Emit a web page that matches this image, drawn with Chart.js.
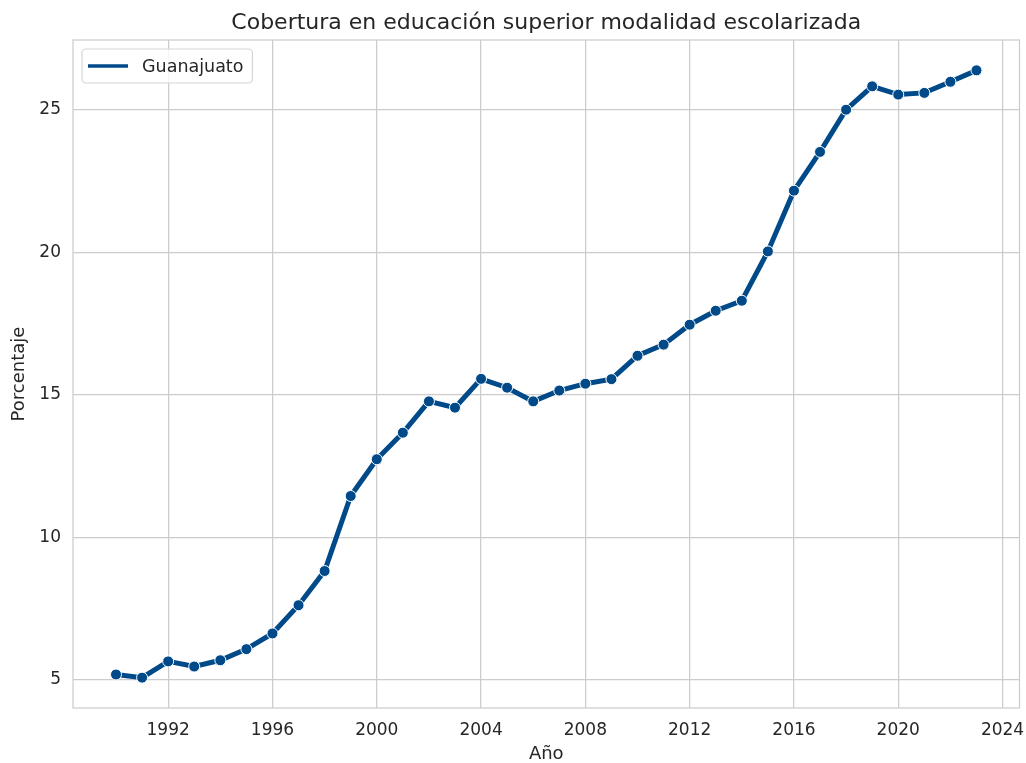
<!DOCTYPE html>
<html>
<head>
<meta charset="utf-8">
<script src="https://cdn.jsdelivr.net/npm/chart.js@4.4.1/dist/chart.umd.min.js"></script>
<style>
  html, body { margin: 0; padding: 0; background: #fff; }
  canvas { display: block; }
</style>
</head>
<body>
<canvas id="chart" width="1026" height="763"></canvas>
<script>
// Data
const years = [1990, 1991, 1992, 1993, 1994, 1995, 1996, 1997, 1998, 1999,
               2000, 2001, 2002, 2003, 2004, 2005, 2006, 2007, 2008, 2009,
               2010, 2011, 2012, 2013, 2014, 2015, 2016, 2017, 2018, 2019,
               2020, 2021, 2022, 2023];
const guanajuato = [5.19, 5.08, 5.65, 5.47, 5.69, 6.08, 6.63, 7.62, 8.82, 11.45,
                    12.74, 13.67, 14.77, 14.55, 15.56, 15.25, 14.77, 15.15, 15.39, 15.55,
                    16.37, 16.76, 17.46, 17.95, 18.30, 20.03, 22.16, 23.52, 25.00, 25.82,
                    25.53, 25.59, 25.98, 26.38];
const xTicks = [1992, 1996, 2000, 2004, 2008, 2012, 2016, 2020, 2024];
const yTicks = [5, 10, 15, 20, 25];

const chartTitle = 'Cobertura en educación superior modalidad escolarizada';
const seriesLabel = 'Guanajuato';
const lineColor = '#004A8A';
const gridColor = '#cccccc';
const textColor = '#262626';
const fontFamily = "'DejaVu Sans', sans-serif";

// matplotlib-style 5% margins around the data
const xPad = (years[years.length - 1] - years[0]) * 0.05;
const yMinV = Math.min(...guanajuato), yMaxV = Math.max(...guanajuato);
const yPad = (yMaxV - yMinV) * 0.05;

// frame around the plot area (all four spines)
const framePlugin = {
  id: 'frame',
  beforeDatasetsDraw(chart) {
    const { ctx, chartArea: a } = chart;
    ctx.save();
    ctx.strokeStyle = gridColor;
    ctx.lineWidth = 1.25;
    ctx.strokeRect(a.left, a.top, a.right - a.left, a.bottom - a.top);
    ctx.restore();
  }
};

// title centred over the axes, like matplotlib does
const axesTitle = {
  id: 'axesTitle',
  afterDraw(chart) {
    const { ctx, chartArea: a } = chart;
    ctx.save();
    ctx.font = '22px ' + fontFamily;
    ctx.fillStyle = textColor;
    ctx.textAlign = 'center';
    ctx.textBaseline = 'alphabetic';
    ctx.fillText(chartTitle, (a.left + a.right) / 2, 28.5);
    ctx.restore();
  }
};

// legend box inside the plot, top left
const boxLegend = {
  id: 'boxLegend',
  afterDraw(chart) {
    const { ctx, chartArea: a } = chart;
    const ds = chart.data.datasets[0];
    ctx.save();
    ctx.font = '17.5px ' + fontFamily;
    const tw = ctx.measureText(ds.label).width;
    const x = a.left + 9, y = a.top + 9;
    const w = 60 + tw + 9, h = 34;
    ctx.beginPath();
    ctx.roundRect(x, y, w, h, 4);
    ctx.fillStyle = 'rgba(255,255,255,0.8)';
    ctx.fill();
    ctx.strokeStyle = '#d6d6d6';
    ctx.lineWidth = 1.2;
    ctx.stroke();
    ctx.beginPath();
    ctx.moveTo(x + 6, y + h / 2);
    ctx.lineTo(x + 46, y + h / 2);
    ctx.strokeStyle = ds.borderColor;
    ctx.lineWidth = 3.5;
    ctx.stroke();
    ctx.fillStyle = textColor;
    ctx.textBaseline = 'middle';
    ctx.fillText(ds.label, x + 60, y + h / 2 + 1);
    ctx.restore();
  }
};

new Chart(document.getElementById('chart'), {
  type: 'line',
  data: {
    datasets: [{
      label: seriesLabel,
      data: years.map((yr, i) => ({ x: yr, y: guanajuato[i] })),
      borderColor: lineColor,
      backgroundColor: lineColor,
      borderWidth: 5,
      pointRadius: 5.5,
      pointBackgroundColor: lineColor,
      pointBorderColor: '#ffffff',
      pointBorderWidth: 1,
      tension: 0,
      fill: false
    }]
  },
  options: {
    responsive: false,
    devicePixelRatio: 1,
    animation: false,
    layout: { padding: { left: 0, right: 4, top: 40, bottom: 0 } },
    plugins: {
      legend: { display: false },
      tooltip: { enabled: false },
      title: { display: false }
    },
    scales: {
      x: {
        type: 'linear',
        min: years[0] - xPad,
        max: years[years.length - 1] + xPad,
        afterBuildTicks: s => { s.ticks = xTicks.map(v => ({ value: v })); },
        afterFit: s => { s.height = 55; s.paddingLeft = 0; s.paddingRight = 0; },
        grid: { color: gridColor, lineWidth: 1.25, drawTicks: false },
        border: { display: false },
        ticks: {
          color: textColor,
          padding: 12,
          maxRotation: 0,
          autoSkip: false,
          font: { family: fontFamily, size: 17 },
          callback: v => String(v)
        },
        title: {
          display: true,
          text: 'Año',
          color: textColor,
          font: { family: fontFamily, size: 18, lineHeight: 1 },
          padding: { top: 0, bottom: 0 }
        }
      },
      y: {
        type: 'linear',
        min: yMinV - yPad,
        max: yMaxV + yPad,
        afterBuildTicks: s => { s.ticks = yTicks.map(v => ({ value: v })); },
        afterFit: s => { s.width = 73; s.paddingTop = 0; s.paddingBottom = 0; },
        grid: { color: gridColor, lineWidth: 1.25, drawTicks: false },
        border: { display: false },
        ticks: {
          color: textColor,
          padding: 12,
          autoSkip: false,
          font: { family: fontFamily, size: 17 },
          callback: v => String(v)
        },
        title: {
          display: true,
          text: 'Porcentaje',
          color: textColor,
          font: { family: fontFamily, size: 18 },
          padding: { top: 9, bottom: 0 }
        }
      }
    }
  },
  plugins: [framePlugin, axesTitle, boxLegend]
});
</script>
</body>
</html>
